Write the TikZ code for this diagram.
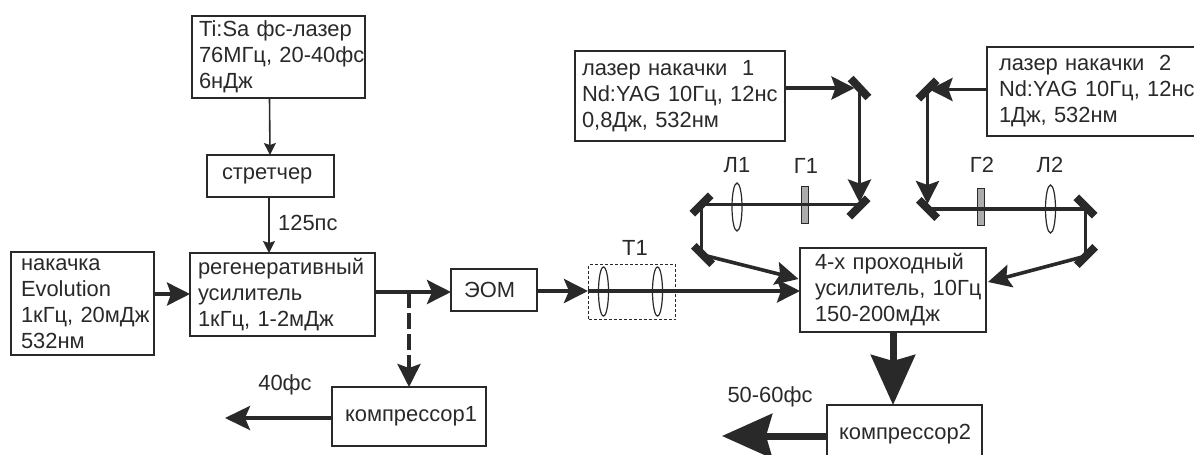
\documentclass[tikz,border=0pt]{standalone}
\usepackage{fontspec}
\setmainfont{Liberation Sans}
\usetikzlibrary{arrows.meta}
\definecolor{inkcol}{gray}{0.16}
\tikzset{
  blockbox/.style={draw=inkcol, line width=1.8pt, anchor=north west, outer sep=0pt, inner xsep=0pt, inner ysep=0pt,
    align=left, text=inkcol, font=\fontsize{21.9}{26}\selectfont, execute at begin node={\leftskip=#1pt\relax}},
  labeltext/.style={text=inkcol, inner sep=0pt, font=\fontsize{21.9}{26}\selectfont},
  mirrornode/.style={fill=inkcol, minimum width=26pt, minimum height=8pt, inner sep=0pt, outer sep=0pt},
  platenode/.style={draw=inkcol, fill=gray!65, line width=.8pt, minimum width=7pt, minimum height=37pt, inner sep=0pt},
  lensline/.style={draw=inkcol, line width=1.2pt},
  thinbeam/.style={draw=inkcol, line width=1.6pt, -{Stealth[length=12pt,width=12pt,inset=2pt]}},
  midbeam/.style={draw=inkcol, line width=3.6pt, -{Stealth[length=23pt,width=23pt,inset=4pt]}},
  plainbeam/.style={draw=inkcol, line width=3.6pt},
  bigbeam/.style={draw=inkcol, line width=7pt, -{Stealth[length=50pt,width=44pt,inset=6pt]}}
}
\begin{document}
\begin{tikzpicture}[x=1pt,y=-1pt]
\path[use as bounding box,clip] (0,0) rectangle (1194,455);
\node[blockbox=7, text width=173pt, minimum height=82pt] (tisa) at (192,16) {Ti:Sa фс-лазер\\\mbox{76МГц, 20-40фс}\\6нДж};
\node[blockbox=15, text width=127pt, minimum height=42pt] (stretcher) at (207,155) {\raisebox{-2pt}{стретчер}};
\node[blockbox=8, text width=185pt, minimum height=83pt] (regen) at (190,253) {регенеративный\\усилитель\\1кГц, 1-2мДж};
\node[blockbox=10, text width=143pt, minimum height=103pt] (pump) at (11,252) {накачка\\Evolution\\\mbox{1кГц, 20мДж}\\532нм};
\node[blockbox=13, text width=86pt, minimum height=42pt] (eom) at (451,269) {\raisebox{-2pt}{ЭОМ}};
\node[blockbox=13, text width=154pt, minimum height=59pt] (compA) at (332,387) {компрессор1};
\node[blockbox=7, text width=210pt, minimum height=90pt] (laserA) at (575,51) {лазер накачки\ \ 1\\\mbox{Nd:YAG 10Гц, 12нс}\\0,8Дж, 532нм};
\node[blockbox=12, text width=230pt, minimum height=89pt] (laserB) at (987,47) {лазер накачки\ \ 2\\\mbox{Nd:YAG 10Гц, 12нс}\\1Дж, 532нм};
\node[blockbox=15, text width=186pt, minimum height=84pt] (amp) at (800,248) {4-х проходный\\\mbox{усилитель, 10Гц}\\150-200мДж};
\node[blockbox=12, text width=155pt, minimum height=60pt] (compB) at (827,405) {\raisebox{7pt}{компрессор2}};
\node[draw=inkcol, dash pattern=on 3pt off 2pt, line width=1.1pt, anchor=north west, minimum width=87pt, minimum height=55pt, inner sep=0pt] (telescope) at (588,264) {};
\node[labeltext, anchor=west] (stretchlabel) at (278,223) {125пс};
\node[labeltext] (outA) at (285,385) {40фс};
\node[labeltext] (outB) at (770,397) {50-60фс};
\node[labeltext] (labelT) at (635,248) {Т1};
\node[labeltext] (labelLA) at (737,165) {Л1};
\node[labeltext] (labelGA) at (806,166) {Г1};
\node[labeltext] (labelGB) at (982,165) {Г2};
\node[labeltext] (labelLB) at (1050,165) {Л2};
\node[mirrornode, rotate=-47] (mirAa) at (859.5,88) {};
\node[mirrornode, rotate=45] (mirAb) at (858.5,207.5) {};
\node[mirrornode, rotate=45] (mirAc) at (701.5,204.5) {};
\node[mirrornode, rotate=-45] (mirAd) at (703,255) {};
\node[mirrornode, rotate=45] (mirBa) at (927.5,89.5) {};
\node[mirrornode, rotate=-45] (mirBb) at (928,209) {};
\node[mirrornode, rotate=-45] (mirBc) at (1085.5,206.5) {};
\node[mirrornode, rotate=45] (mirBd) at (1086,256) {};
\node[platenode] (plateA) at (805,204.5) {};
\node[platenode] (plateB) at (981,206.5) {};
\coordinate (tap) at (409,292);
\coordinate (beamline) at (537,291);
\coordinate (ampinA) at (798.5,279);
\coordinate (ampinB) at (988,282);
\coordinate (compout) at (225,418);
\coordinate (ampout) at (722,436);
\draw[thinbeam] (tisa.south -| stretcher.north) ++(-1,0) -- (270,155);
\draw[thinbeam] (269,197) -- (269,253);
\draw[midbeam] (pump.east |- 0,294) -- (regen.west |- 0,294);
\draw[midbeam, line width=4pt, -{Stealth[length=24pt,width=24pt,inset=5pt]}] (regen.east |- tap) -- (eom.west |- tap);
\draw[midbeam, line width=4pt, -{Stealth[length=24pt,width=24pt,inset=5pt]}] (eom.east |- beamline) -- (telescope.west |- beamline);
\draw[midbeam] (telescope.west |- beamline) -- (amp.west |- beamline);
\draw[midbeam, dash pattern=on 16pt off 5pt] (tap) -- (tap |- compA.north);
\draw[midbeam, line width=4pt, -{Stealth[length=25pt,width=24pt,inset=5pt]}] (compA.west |- compout) -- (compout);
\draw[midbeam, line width=4pt, shorten >=5pt] (laserA.east |- mirAa) -- (mirAa.center);
\draw[midbeam, shorten >=5pt] (mirAa.center) -- (mirAa.center |- mirAb.center);
\draw[plainbeam] (mirAc.center) -- (mirAc.center -| mirAb.center);
\draw[plainbeam] (mirAc.center) -- (mirAc.center |- mirAd.center);
\draw[midbeam] (mirAd.center) -- (ampinA);
\draw[midbeam, shorten >=2pt] (laserB.west |- mirBa) -- (mirBa.center);
\draw[midbeam, shorten >=5pt] (mirBa.center) -- (mirBa.center |- mirBb.center);
\draw[plainbeam] (mirBb.center) -- (mirBb.center -| mirBc.center);
\draw[plainbeam] (mirBc.center) -- (mirBc.center |- mirBd.center);
\draw[midbeam] (mirBd.center) -- (ampinB);
\draw[bigbeam] (amp.south -| 893,0) -- (compB.north -| 893,0);
\draw[bigbeam] (compB.west |- ampout) -- (ampout);
\draw[lensline] (603.5,291.5) ellipse [x radius=5,y radius=24.5];
\draw[lensline] (657.5,291.5) ellipse [x radius=5,y radius=24.5];
\draw[lensline] (737,207) ellipse [x radius=5,y radius=24];
\draw[lensline] (1050.5,209) ellipse [x radius=5,y radius=24];
\end{tikzpicture}
\end{document}
